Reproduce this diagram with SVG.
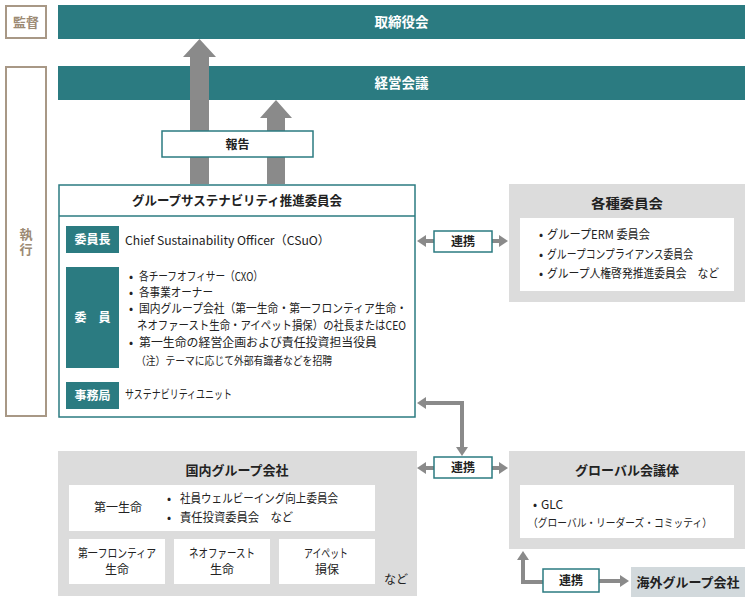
<svg xmlns="http://www.w3.org/2000/svg" width="750" height="602" viewBox="0 0 750 602">
<style>
  text { font-family: "Noto Sans CJK JP", "Noto Sans", sans-serif; fill: #222; }
  .bar { fill: #2b7b81; }
  .bartxt { fill: #fff; font-size: 13.5px; font-weight: bold; text-anchor: middle; }
  .side { fill: #fff; stroke: #a89886; stroke-width: 2; }
  .sidetxt { fill: #9c8a74; font-size: 13px; font-weight: bold; text-anchor: middle; }
  .frame { fill: #fff; stroke: #2b7b81; stroke-width: 1.5; }
  .lbl { fill: #2b7b81; }
  .lbltxt { fill: #fff; font-size: 12px; font-weight: bold; text-anchor: middle; }
  .title { font-size: 13px; font-weight: bold; text-anchor: middle; }
  .body { font-size: 12px; }
  .note { font-size: 11px; }
  .mid { text-anchor: middle; }
  .gray { fill: #dcdcdc; }
  .white { fill: #fff; }
  .link { fill: #fff; stroke: #2b7b81; stroke-width: 1.5; }
  .linktxt { font-size: 12px; font-weight: bold; text-anchor: middle; }
  .conn { fill: none; stroke: #8a8a8a; stroke-width: 4; }
  .big { fill: #8a8a8a; }
</style>
<defs>
  <marker id="ah" markerUnits="userSpaceOnUse" markerWidth="9" markerHeight="12" refX="0" refY="6" orient="auto-start-reverse">
    <path d="M0,0 L9,6 L0,12 z" fill="#8a8a8a"/>
  </marker>
</defs>

<!-- side labels -->
<g id="kansa">
  <rect class="side" x="6" y="6" width="40" height="32"/>
  <text class="sidetxt" x="26" y="27">監督</text>
</g>
<g id="shikko">
  <rect class="side" x="6" y="67" width="40" height="349"/>
  <text class="sidetxt" x="26" y="243" writing-mode="vertical-rl" letter-spacing="2">執行</text>
</g>

<!-- bars -->
<g id="torishimariyakukai">
  <rect class="bar" x="58" y="5" width="687" height="34"/>
  <text class="bartxt" x="401.5" y="27">取締役会</text>
</g>
<g id="keieikaigi">
  <rect class="bar" x="58" y="66" width="687" height="34"/>
  <text class="bartxt" x="401.5" y="88">経営会議</text>
</g>

<!-- connectors -->
<g id="connectors">
  <polygon class="big" points="190,184 190,57 183,57 199.5,39 216,57 209,57 209,184"/>
  <polygon class="big" points="267,184 267,118 260,118 276,100 292,118 285,118 285,184"/>
  <line class="conn" x1="426" y1="241" x2="434" y2="241" marker-start="url(#ah)"/>
  <line class="conn" x1="492" y1="241" x2="499" y2="241" marker-end="url(#ah)"/>
  <path class="conn" d="M426,403 H462 V447" marker-start="url(#ah)" marker-end="url(#ah)"/>
  <line class="conn" x1="426" y1="468" x2="434" y2="468" marker-start="url(#ah)"/>
  <line class="conn" x1="492" y1="468" x2="499" y2="468" marker-end="url(#ah)"/>
  <path class="conn" d="M543,582 H523 V560" marker-end="url(#ah)"/>
  <line class="conn" x1="599" y1="581" x2="620" y2="581" marker-end="url(#ah)"/>
</g>

<g id="houkoku">
  <rect class="frame" x="162" y="131" width="151" height="26"/>
  <text class="linktxt" x="237.5" y="148.5">報告</text>
</g>

<!-- main committee -->
<g id="group-sustainability">
  <rect class="frame" x="59" y="185" width="356" height="232"/>
  <line x1="59" y1="216" x2="415" y2="216" stroke="#2b7b81" stroke-width="1.5"/>
  <text class="title" x="237" y="205" textLength="210" lengthAdjust="spacingAndGlyphs">グループサステナビリティ推進委員会</text>
  <rect class="lbl" x="66" y="226" width="53" height="27"/>
  <text class="lbltxt" x="92.5" y="244">委員長</text>
  <text class="body" x="125" y="244.5" textLength="205" lengthAdjust="spacingAndGlyphs">Chief Sustainability Officer（CSuO）</text>
  <rect class="lbl" x="66" y="267" width="53" height="101"/>
  <text class="lbltxt" x="92.5" y="322">委　員</text>
  <text class="body" x="129" y="281">•</text>
  <text class="body" x="139" y="281" textLength="124" lengthAdjust="spacingAndGlyphs">各チーフオフィサー（CXO）</text>
  <text class="body" x="129" y="297">•</text>
  <text class="body" x="139" y="297" textLength="74" lengthAdjust="spacingAndGlyphs">各事業オーナー</text>
  <text class="body" x="129" y="313">•</text>
  <text class="body" x="139" y="313" textLength="268" lengthAdjust="spacingAndGlyphs">国内グループ会社（第一生命・第一フロンティア生命・</text>
  <text class="body" x="137" y="330" textLength="269" lengthAdjust="spacingAndGlyphs">ネオファースト生命・アイペット損保）の社長またはCEO</text>
  <text class="body" x="129" y="347">•</text>
  <text class="body" x="139" y="347" textLength="238" lengthAdjust="spacingAndGlyphs">第一生命の経営企画および責任投資担当役員</text>
  <text class="note" x="136" y="365" textLength="196" lengthAdjust="spacingAndGlyphs">（注）テーマに応じて外部有識者などを招聘</text>
  <rect class="lbl" x="66" y="382" width="53" height="27"/>
  <text class="lbltxt" x="92.5" y="400">事務局</text>
  <text class="body" x="125" y="399" textLength="107" lengthAdjust="spacingAndGlyphs">サステナビリティユニット</text>
</g>

<g id="renkei1">
  <rect class="link" x="434" y="231" width="58" height="21"/>
  <text class="linktxt" x="463" y="246">連携</text>
</g>

<g id="kakushu">
  <rect class="gray" x="509" y="184" width="236" height="118"/>
  <text class="title" x="627" y="208" textLength="72" lengthAdjust="spacingAndGlyphs">各種委員会</text>
  <rect class="white" x="520" y="218" width="214" height="73"/>
  <text class="body" x="539" y="239">•</text>
  <text class="body" x="547" y="239" textLength="103" lengthAdjust="spacingAndGlyphs">グループERM 委員会</text>
  <text class="body" x="539" y="259">•</text>
  <text class="body" x="547" y="259" textLength="146" lengthAdjust="spacingAndGlyphs">グループコンプライアンス委員会</text>
  <text class="body" x="539" y="278">•</text>
  <text class="body" x="547" y="278" textLength="172" lengthAdjust="spacingAndGlyphs">グループ人権啓発推進委員会　など</text>
</g>

<g id="renkei2">
  <rect class="link" x="434" y="457" width="58" height="21"/>
  <text class="linktxt" x="463" y="472">連携</text>
</g>

<g id="kokunai">
  <rect class="gray" x="58" y="451" width="359" height="145"/>
  <text class="title" x="237" y="475">国内グループ会社</text>
  <rect class="white" x="69" y="485" width="306" height="46"/>
  <text class="body mid" x="118" y="512">第一生命</text>
  <text class="body" x="167" y="503">•</text>
  <text class="body" x="180" y="503" textLength="158" lengthAdjust="spacingAndGlyphs">社員ウェルビーイング向上委員会</text>
  <text class="body" x="167" y="522">•</text>
  <text class="body" x="180" y="522" textLength="113" lengthAdjust="spacingAndGlyphs">責任投資委員会　など</text>
  <rect class="white" x="69" y="539" width="96" height="45"/>
  <text class="body mid" x="117" y="558" textLength="78" lengthAdjust="spacingAndGlyphs">第一フロンティア</text>
  <text class="body mid" x="117" y="574">生命</text>
  <rect class="white" x="174" y="539" width="96" height="45"/>
  <text class="body mid" x="222" y="558" textLength="66" lengthAdjust="spacingAndGlyphs">ネオファースト</text>
  <text class="body mid" x="222" y="574">生命</text>
  <rect class="white" x="279" y="539" width="96" height="45"/>
  <text class="body mid" x="326" y="558" textLength="44" lengthAdjust="spacingAndGlyphs">アイペット</text>
  <text class="body mid" x="327" y="574">損保</text>
  <text class="body mid" x="396" y="584">など</text>
</g>

<g id="global">
  <rect class="gray" x="509" y="451" width="236" height="98"/>
  <text class="title" x="627" y="475">グローバル会議体</text>
  <rect class="white" x="520" y="485" width="214" height="53"/>
  <text class="body" x="533" y="509">•</text>
  <text class="body" x="541" y="509">GLC</text>
  <text class="note" x="528" y="527" textLength="184" lengthAdjust="spacingAndGlyphs">（グローバル・リーダーズ・コミッティ）</text>
</g>

<g id="renkei3">
  <rect class="link" x="543" y="569" width="56" height="23"/>
  <text class="linktxt" x="571" y="585">連携</text>
</g>

<g id="kaigai">
  <rect x="631" y="567" width="114" height="30" fill="#d2d9dc"/>
  <text class="title" x="688" y="586.5">海外グループ会社</text>
</g>
</svg>
